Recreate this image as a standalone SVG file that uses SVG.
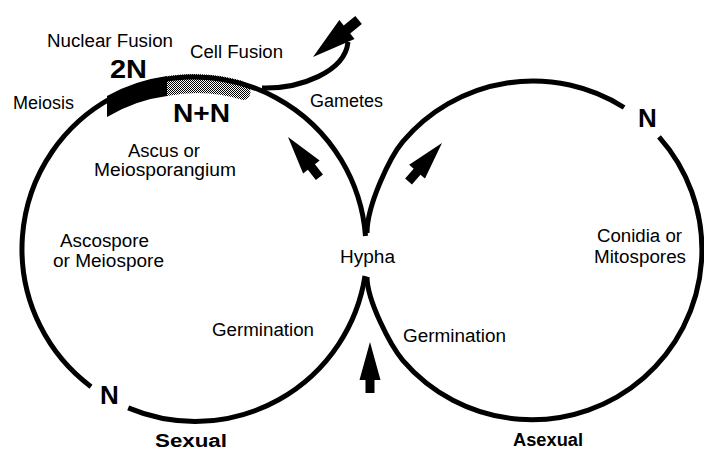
<svg xmlns="http://www.w3.org/2000/svg" xmlns:xlink="http://www.w3.org/1999/xlink" width="704" height="452" viewBox="0 0 704 452">
  <style>
    .ln { fill: none; stroke: #000; stroke-width: 5; }
    .t { font-family: "Liberation Sans", Arial, sans-serif; font-size: 18px; fill: #000; }
    .b { font-weight: bold; font-size: 26px; }
    .bs { font-weight: bold; font-size: 18px; }
    .ar { fill: #000; }
  </style>
  <defs>
    <pattern id="dither" width="2" height="2" patternUnits="userSpaceOnUse">
      <rect width="2" height="2" fill="#fff"/>
      <rect width="1" height="1" fill="#000"/>
      <rect x="1" y="1" width="1" height="1" fill="#000"/>
    </pattern>
    <path id="arrow" d="M0 0 L10.5 38 L4.5 38 L4.5 51 L-4.5 51 L-4.5 38 L-10.5 38 Z"/>
  </defs>
  <rect width="704" height="452" fill="#fff"/>

  <!-- 2N and N+N bands on the sexual cycle -->
  <g id="bands">
    <path d="M107 96 A174 174 0 0 1 167 76.1 L167 96 A155 155 0 0 0 107 117 Z" fill="#000"/>
    <path d="M167 76.1 A174 174 0 0 1 243 81 L243 85 A7.5 7.5 0 0 1 243 100 A155 155 0 0 0 167 96 Z" fill="url(#dither)"/>
  </g>

  <g id="connectors">
    <!-- sexual cycle -->
    <path class="ln" d="M365.5 236 A172 172 0 1 0 91 386.7"/>
    <path class="ln" d="M128.2 407.9 A172 172 0 0 0 365 276"/>
    <!-- asexual cycle -->
    <path class="ln" d="M367 233 C367 205 390 157 402.8 141.7 A170 170 0 0 1 624.1 107.5"/>
    <path class="ln" d="M659 136.8 A170 170 0 1 1 402.8 360.3 C390 345 367 300 367 277"/>
    <!-- cell fusion branch -->
    <path class="ln" d="M262 88 C300 89 345 72 348 42"/>
    <!-- arrows -->
    <use xlink:href="#arrow" class="ar" transform="translate(313,57) rotate(-129) scale(1.15)"/>
    <use xlink:href="#arrow" class="ar" transform="translate(288,137) rotate(-38)"/>
    <use xlink:href="#arrow" class="ar" transform="translate(442,143) rotate(41)"/>
    <use xlink:href="#arrow" class="ar" transform="translate(370,342)"/>
  </g>

  <g id="nuclear-fusion"><text class="t" x="47" y="47" textLength="126" lengthAdjust="spacingAndGlyphs">Nuclear Fusion</text></g>
  <g id="cell-fusion"><text class="t" x="190" y="58" textLength="93" lengthAdjust="spacingAndGlyphs">Cell Fusion</text></g>
  <g id="ploidy-2n"><text class="t b" x="110" y="78" textLength="37" lengthAdjust="spacingAndGlyphs">2N</text></g>
  <g id="meiosis"><text class="t" x="13" y="109" textLength="61" lengthAdjust="spacingAndGlyphs">Meiosis</text></g>
  <g id="ploidy-n-n"><text class="t b" x="173" y="122" textLength="57" lengthAdjust="spacingAndGlyphs">N+N</text></g>
  <g id="gametes"><text class="t" x="310" y="107" textLength="73" lengthAdjust="spacingAndGlyphs">Gametes</text></g>
  <g id="ascus">
    <text class="t" x="128" y="157" textLength="72" lengthAdjust="spacingAndGlyphs">Ascus or</text>
    <text class="t" x="94" y="176" textLength="142" lengthAdjust="spacingAndGlyphs">Meiosporangium</text>
  </g>
  <g id="ascospore">
    <text class="t" x="60" y="247" textLength="89" lengthAdjust="spacingAndGlyphs">Ascospore</text>
    <text class="t" x="53" y="267" textLength="111" lengthAdjust="spacingAndGlyphs">or Meiospore</text>
  </g>
  <g id="hypha"><text class="t" x="340" y="263" textLength="55" lengthAdjust="spacingAndGlyphs">Hypha</text></g>
  <g id="germination-sexual"><text class="t" x="212" y="336" textLength="102" lengthAdjust="spacingAndGlyphs">Germination</text></g>
  <g id="ploidy-n-sexual"><text class="t b" x="100" y="404">N</text></g>
  <g id="sexual"><text class="t bs" x="155" y="447" textLength="72" lengthAdjust="spacingAndGlyphs">Sexual</text></g>
  <g id="ploidy-n-asexual"><text class="t b" x="638" y="127">N</text></g>
  <g id="conidia">
    <text class="t" x="597" y="242" textLength="85" lengthAdjust="spacingAndGlyphs">Conidia or</text>
    <text class="t" x="594" y="263" textLength="92" lengthAdjust="spacingAndGlyphs">Mitospores</text>
  </g>
  <g id="germination-asexual"><text class="t" x="403" y="342" textLength="103" lengthAdjust="spacingAndGlyphs">Germination</text></g>
  <g id="asexual"><text class="t bs" x="513" y="446" textLength="70" lengthAdjust="spacingAndGlyphs">Asexual</text></g>
</svg>
